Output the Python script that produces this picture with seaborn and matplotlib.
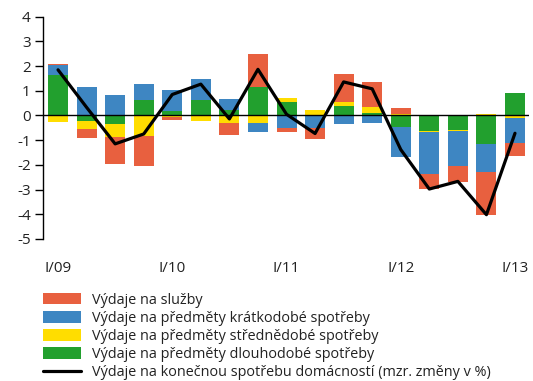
import numpy as np
import pandas as pd
import matplotlib
matplotlib.use("Agg")
import matplotlib.pyplot as plt
import seaborn as sns
from matplotlib.patches import Patch
from matplotlib.lines import Line2D

# Quarterly contributions to household consumption growth (percentage points)
quarters = ["I/09", "II/09", "III/09", "IV/09", "I/10", "II/10", "III/10", "IV/10",
            "I/11", "II/11", "III/11", "IV/11", "I/12", "II/12", "III/12", "IV/12", "I/13"]
tick_labels = ["I/09", "I/10", "I/11", "I/12", "I/13"]

dlouhodobe = [1.64, -0.23, -0.35, 0.62, 0.18, 0.62, 0.24, 1.15, 0.54, 0.00,
              0.38, 0.11, -0.47, -0.64, -0.58, -1.15, 0.91]
strednedobe = [-0.26, -0.32, -0.53, -0.84, -0.08, -0.23, -0.30, -0.31, 0.16, 0.22,
               0.16, 0.23, 0.05, -0.04, -0.04, 0.07, -0.09]
kratkodobe = [0.39, 1.15, 0.83, 0.65, 0.85, 0.85, 0.42, -0.35, -0.50, -0.49,
              -0.34, -0.30, -1.22, -1.69, -1.42, -1.14, -1.01]
sluzby = [0.05, -0.37, -1.08, -1.20, -0.09, 0.00, -0.50, 1.34, -0.16, -0.46,
          1.14, 1.01, 0.24, -0.62, -0.66, -1.76, -0.54]
spotreba = [1.85, 0.33, -1.15, -0.75, 0.85, 1.27, -0.14, 1.87, 0.05, -0.73,
            1.36, 1.08, -1.38, -2.98, -2.67, -4.02, -0.72]

series_names = ["Výdaje na předměty dlouhodobé spotřeby",
                "Výdaje na předměty střednědobé spotřeby",
                "Výdaje na předměty krátkodobé spotřeby",
                "Výdaje na služby"]
line_name = "Výdaje na konečnou spotřebu domácností (mzr. změny v %)"
colors = ["#22A02E", "#FFDD00", "#3E86C2", "#E8603F"]
series = [dlouhodobe, strednedobe, kratkodobe, sluzby]

sns.set_theme(style="white")
plt.rcParams["font.family"] = ["Open Sans", "DejaVu Sans"]
plt.rcParams["font.size"] = 9.5
plt.rcParams["axes.unicode_minus"] = False

fig = plt.figure(figsize=(5.33, 3.81), dpi=100)
ax = fig.add_axes([0.081, 0.373, 0.912, 0.583])

# Stack positives and negatives separately; draw cumulative totals from the
# outermost layer inward so each inner layer covers the one beneath.
vals = np.array(series)
pos = np.clip(vals, 0, None).cumsum(axis=0)
neg = np.clip(vals, None, 0).cumsum(axis=0)
for i in range(len(series) - 1, -1, -1):
    for cum in (pos[i], neg[i]):
        df = pd.DataFrame({"q": quarters, "v": cum})
        sns.barplot(data=df, x="q", y="v", order=quarters, color=colors[i],
                    saturation=1, width=0.7, linewidth=0, ax=ax)

ax.axhline(0, color="black", lw=1.0, zorder=3)

line_df = pd.DataFrame({"x": np.arange(len(quarters)), "v": spotreba})
sns.lineplot(data=line_df, x="x", y="v", color="black", lw=2.3, ax=ax, zorder=4)

ax.set_ylim(-5, 4)
ax.set_xlim(-0.52, len(quarters) - 0.5)
ax.set_yticks(range(-5, 5))
ax.set_xticks([quarters.index(t) for t in tick_labels])
ax.set_xticklabels(tick_labels)
ax.set_xlabel("")
ax.set_ylabel("")
for s in ["top", "right", "bottom"]:
    ax.spines[s].set_visible(False)
ax.spines["left"].set_color("black")
ax.spines["left"].set_linewidth(1.0)
ax.tick_params(axis="y", direction="out", length=6, width=1, color="black",
               labelsize=11, labelcolor="#222222", pad=3, left=True)
ax.tick_params(axis="x", length=0, labelsize=11, labelcolor="#222222", pad=16)

handles = [Patch(facecolor=colors[i], edgecolor="none", label=series_names[i])
           for i in range(len(series) - 1, -1, -1)]
handles.append(Line2D([0], [0], color="black", lw=2.3, label=line_name))
fig.legend(handles=handles, loc="upper left", bbox_to_anchor=(0.081, 0.232),
           frameon=False, fontsize=10.4, handlelength=2.65, handleheight=0.85,
           labelspacing=0.22, handletextpad=0.7, borderpad=0, borderaxespad=0,
           labelcolor="#222222")

fig.savefig("out.png", dpi=100)
